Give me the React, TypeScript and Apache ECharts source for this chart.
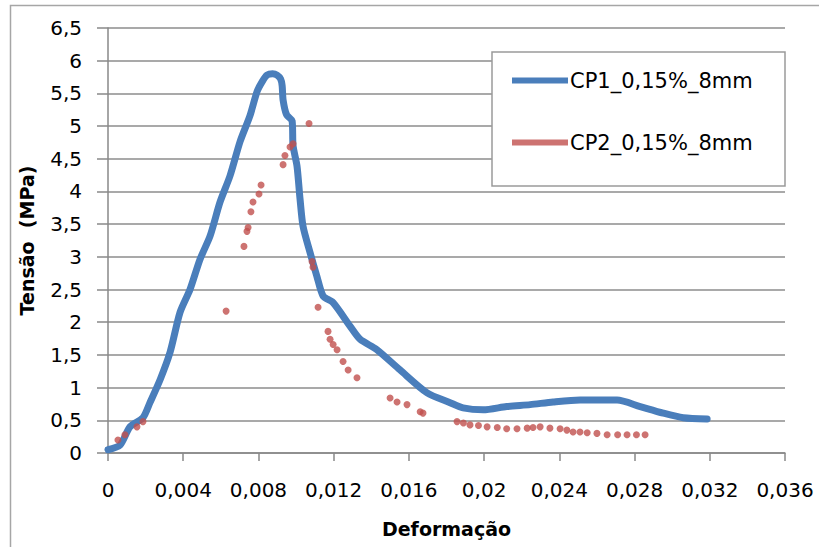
import React, { useEffect, useRef } from "react";
import * as echarts from "echarts";

const seriesNames = ["CP1_0,15%_8mm", "CP2_0,15%_8mm"];

const cp1Strain = [0, 0.00064, 0.00117, 0.00186, 0.00223, 0.00277, 0.0033, 0.00383, 0.00436, 0.00489, 0.00543, 0.00596, 0.00649, 0.00702, 0.00755, 0.00793, 0.0082, 0.00846, 0.00875, 0.00899, 0.00918, 0.00926, 0.00931, 0.0095, 0.00979, 0.00984, 0.01005, 0.01021, 0.01037, 0.01074, 0.01111, 0.01144, 0.01197, 0.01287, 0.0134, 0.0143, 0.01553, 0.01697, 0.01819, 0.01888, 0.01995, 0.0212, 0.02245, 0.02367, 0.0251, 0.02707, 0.0283, 0.02952, 0.03059, 0.03186];
const cp1Stress = [0.05, 0.12, 0.4, 0.54, 0.77, 1.12, 1.54, 2.15, 2.5, 2.96, 3.32, 3.84, 4.24, 4.76, 5.16, 5.53, 5.68, 5.78, 5.8, 5.78, 5.72, 5.62, 5.4, 5.17, 5.08, 4.7, 4.39, 3.89, 3.47, 3.07, 2.7, 2.4, 2.3, 1.94, 1.74, 1.58, 1.27, 0.92, 0.77, 0.69, 0.66, 0.71, 0.74, 0.78, 0.81, 0.81, 0.71, 0.61, 0.54, 0.52];

const cp2Strain = [0.00053, 0.0009, 0.00154, 0.00186, 0.00628, 0.00723, 0.00739, 0.00745, 0.0076, 0.00771, 0.00803, 0.00814, 0.00931, 0.00941, 0.00968, 0.00984, 0.01069, 0.01085, 0.0109, 0.01117, 0.0117, 0.01181, 0.01197, 0.01218, 0.0125, 0.01277, 0.01324, 0.015, 0.01537, 0.0159, 0.0166, 0.01675, 0.01856, 0.0189, 0.01925, 0.0197, 0.02016, 0.0207, 0.0212, 0.02175, 0.02229, 0.0226, 0.02298, 0.0235, 0.02404, 0.0244, 0.02473, 0.0251, 0.02548, 0.026, 0.02654, 0.0271, 0.0276, 0.0281, 0.02856];
const cp2Stress = [0.2, 0.28, 0.4, 0.48, 2.17, 3.16, 3.39, 3.45, 3.69, 3.84, 3.96, 4.1, 4.41, 4.55, 4.68, 4.73, 5.04, 2.93, 2.84, 2.23, 1.86, 1.74, 1.66, 1.58, 1.4, 1.27, 1.15, 0.84, 0.78, 0.74, 0.63, 0.61, 0.48, 0.46, 0.43, 0.42, 0.4, 0.39, 0.37, 0.37, 0.38, 0.39, 0.4, 0.38, 0.37, 0.35, 0.32, 0.32, 0.31, 0.3, 0.28, 0.28, 0.28, 0.28, 0.28];

const xTicks = { min: 0, max: 0.036, interval: 0.004 };
const yTicks = { min: 0, max: 6.5, interval: 0.5 };

const fmt = (v: number) => (v === 0 ? "0" : String(+v.toFixed(4)).replace(".", ","));

export default function App() {
  const ref = useRef<HTMLDivElement>(null);
  useEffect(() => {
    document.body.style.margin = "0";
    const chart = echarts.init(ref.current!, null, { renderer: "svg" });
    const font = "DejaVu Sans, Verdana, sans-serif";
    chart.setOption({
      animation: false,
      backgroundColor: "#ffffff",
      textStyle: { fontFamily: font },
      grid: { left: 108, right: 34, top: 28, bottom: 94 },
      graphic: [
        {
          type: "rect",
          shape: { x: 10.5, y: 5.5, width: 830, height: 560 },
          style: { fill: "none", stroke: "#a6a6a6", lineWidth: 1.5 },
          silent: true,
        },
        {
          type: "rect",
          shape: { x: 492, y: 52, width: 293, height: 134 },
          style: { fill: "#ffffff", stroke: "#9a9a9a", lineWidth: 1.5 },
          silent: true,
          z: 50,
        },
      ],
      legend: {
        orient: "vertical",
        left: 507,
        top: 65,
        icon: "rect",
        itemWidth: 56,
        itemHeight: 6,
        itemGap: 41,
        z: 60,
        textStyle: { fontFamily: font, fontSize: 21, lineHeight: 21, color: "#000", padding: [0, 0, 0, -3] },
        data: seriesNames,
      },
      xAxis: {
        type: "value",
        min: xTicks.min,
        max: xTicks.max,
        interval: xTicks.interval,
        name: "Deformação",
        nameLocation: "middle",
        nameGap: 66,
        nameTextStyle: { fontFamily: font, fontSize: 19, fontWeight: "bold", color: "#000" },
        axisLine: { show: true, lineStyle: { color: "#888", width: 1.5 } },
        axisTick: { show: true, length: 8, lineStyle: { color: "#888", width: 1.5 } },
        axisLabel: { formatter: fmt, fontFamily: font, fontSize: 20, color: "#000", margin: 27 },
        splitLine: { show: false },
      },
      yAxis: {
        type: "value",
        min: yTicks.min,
        max: yTicks.max,
        interval: yTicks.interval,
        name: "Tensão  (MPa)",
        nameLocation: "middle",
        nameGap: 72,
        nameTextStyle: { fontFamily: font, fontSize: 19, fontWeight: "bold", color: "#000" },
        axisLine: { show: true, lineStyle: { color: "#888", width: 1.5 } },
        axisTick: { show: true, length: 11, lineStyle: { color: "#888", width: 1.5 } },
        axisLabel: { formatter: fmt, fontFamily: font, fontSize: 20, color: "#000", margin: 26 },
        splitLine: { show: true, lineStyle: { color: "#8c8c8c", width: 1.5 } },
      },
      series: [
        {
          name: seriesNames[0],
          type: "line",
          data: cp1Strain.map((x, i) => [x, cp1Stress[i]]),
          showSymbol: false,
          symbol: "none",
          smooth: 0.25,
          lineStyle: { color: "#4a7ebb", width: 7, cap: "round", join: "round" },
          itemStyle: { color: "#4a7ebb" },
          z: 3,
        },
        {
          name: seriesNames[1],
          type: "scatter",
          data: cp2Strain.map((x, i) => [x, cp2Stress[i]]),
          symbolSize: 7,
          itemStyle: { color: "#c0504d" },
          z: 4,
        },
      ],
    });
    return () => chart.dispose();
  }, []);
  return <div ref={ref} style={{ width: 819, height: 547 }} />;
}
